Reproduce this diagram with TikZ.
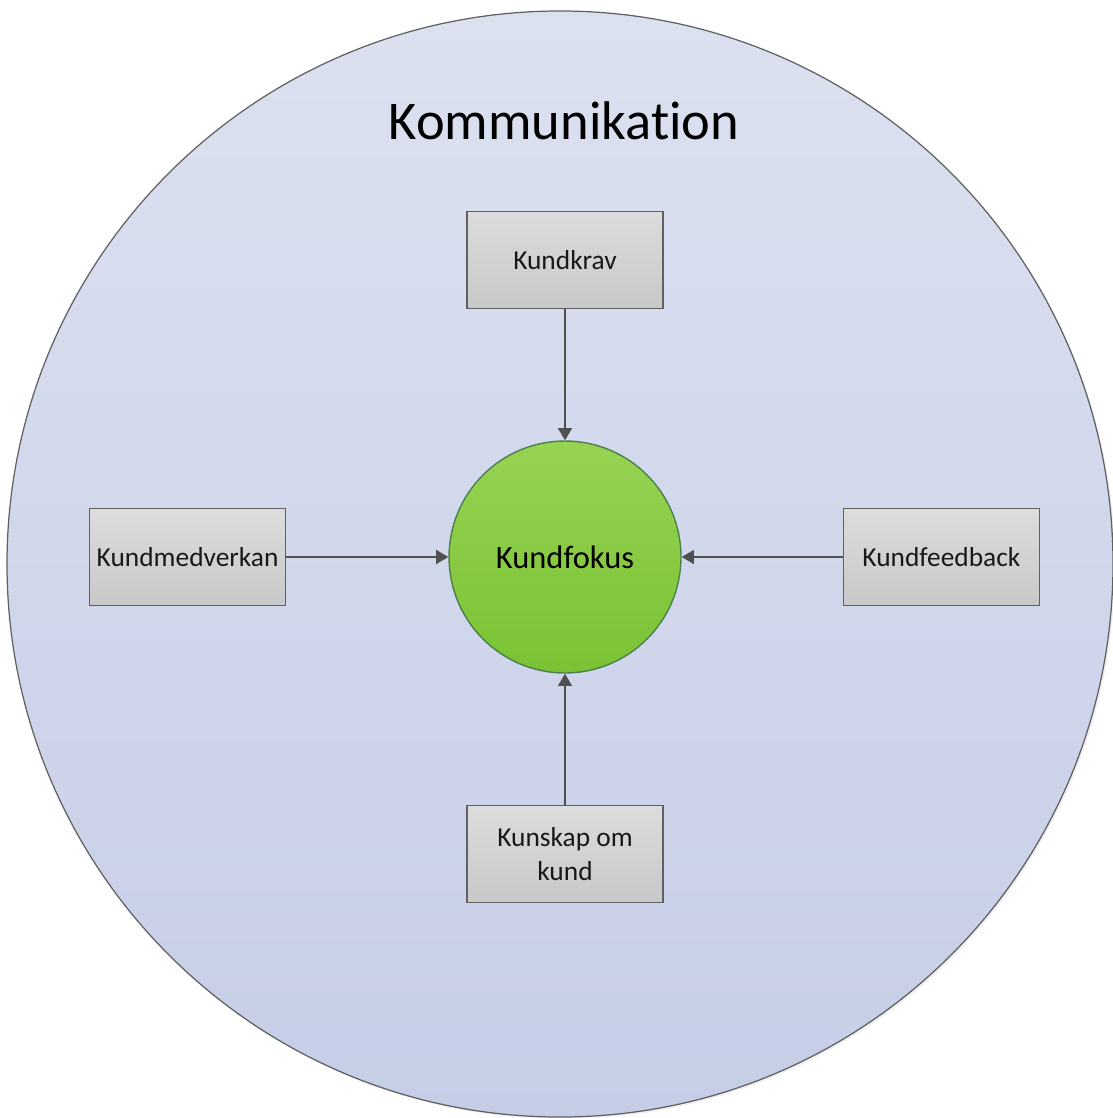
\documentclass[tikz,border=0pt]{standalone}
\usepackage{fontspec}
\setmainfont{Carlito}[Ligatures=NoCommon]
\usetikzlibrary{positioning,arrows.meta}

\definecolor{ringtop}{HTML}{DCE1F0}
\definecolor{ringbot}{HTML}{C6CEE7}
\definecolor{boxtop}{HTML}{DCDCDC}
\definecolor{boxbot}{HTML}{C8C8C8}
\definecolor{fokustop}{HTML}{96D352}
\definecolor{fokusbot}{HTML}{7AC234}
\definecolor{kant}{HTML}{606060}
\definecolor{pil}{HTML}{505050}

\tikzset{
  faktor/.style={draw=kant, line width=0.9pt, top color=boxtop, bottom color=boxbot,
    minimum width=3.92cm, minimum height=1.94cm, align=center, inner sep=2pt,
    font=\fontsize{15.6}{19.5}\selectfont, text=black!90},
  fokus/.style={circle, draw=kant!80!green, line width=0.8pt, top color=fokustop,
    bottom color=fokusbot, minimum size=4.64cm, font=\fontsize{18.5}{22}\selectfont},
  pilen/.style={draw=pil, line width=0.9pt, -{Triangle[length=7pt,width=8pt]}}
}

\begin{document}
\begin{tikzpicture}[x=0.02cm,y=-0.02cm]
  \useasboundingbox (0,0) rectangle (1112,1118);

  % yttre cirkeln
  \fill[black, opacity=0.06] (562,566) circle (553*0.02cm);
  \shade[top color=ringtop, bottom color=ringbot] (560,564) circle (553*0.02cm);
  \draw[kant, line width=0.7pt] (560,564) circle (553*0.02cm);
  \node[anchor=base, font=\fontsize{31}{36}\selectfont] (rubrik) at (564,140) {Kommunikation};

  % mitten
  \node[fokus] (kundfokus) at (565,557) {Kundfokus};

  % faktorerna runt om
  \node[faktor, above=2.62cm of kundfokus] (kundkrav) {Kundkrav};
  \node[faktor, left=3.24cm of kundfokus] (kundmedverkan) {Kundmedverkan};
  \node[faktor, right=3.22cm of kundfokus] (kundfeedback) {Kundfeedback};
  \node[faktor, below=2.62cm of kundfokus] (kunskap) {Kunskap om\\kund};

  % pilar in mot mitten
  \draw[pilen] (kundkrav) -- (kundfokus);
  \draw[pilen] (kundmedverkan) -- (kundfokus);
  \draw[pilen] (kundfeedback) -- (kundfokus);
  \draw[pilen] (kunskap) -- (kundfokus);
\end{tikzpicture}
\end{document}
